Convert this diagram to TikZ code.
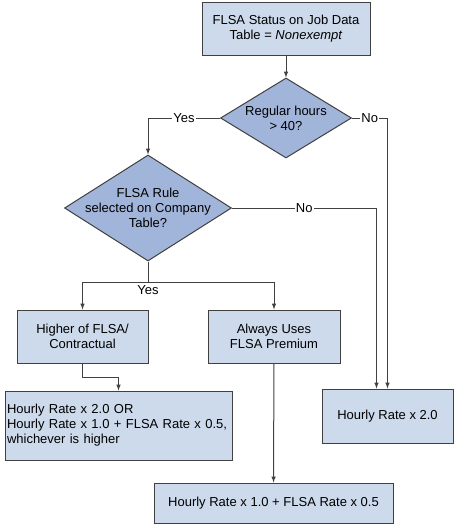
\documentclass[tikz,border=0pt]{standalone}
\usepackage{fontspec}
\setmainfont{Liberation Sans}
\usepackage{tikz}
\usetikzlibrary{arrows,calc,shapes.geometric}
\definecolor{boxfill}{RGB}{204,218,236}
\definecolor{diafill}{RGB}{161,180,217}
\definecolor{ln}{RGB}{64,64,64}

\begin{document}
\begin{tikzpicture}[x=1pt, y=-1pt,
    font=\fontsize{13}{15}\selectfont,
    bx/.style={shape=rectangle, draw=ln, fill=boxfill, line width=1pt, align=center, inner sep=3pt},
    dia/.style={shape=diamond, draw=ln, fill=diafill, line width=1pt, inner sep=0pt},
    txt/.style={align=center, inner sep=0pt},
    lbl/.style={fill=white, inner sep=1pt},
    arr/.style={draw=ln, line width=1pt, -latex},]
    \useasboundingbox (0,0) rectangle (455,525);
    \node [bx, minimum width=168, minimum height=53] (status) at (286,28.5) {FLSA Status on Job Data\\Table = \textit{Nonexempt}};
    \node [dia, minimum width=131, minimum height=80] (hours) at (286,118) {};
    \node [txt] (hourst) at (hours) {Regular hours\\> 40?};
    \node [dia, minimum width=167, minimum height=106] (rule) at (148,208) {};
    \node [txt] (rulet) at (rule) {FLSA Rule\\selected on Company\\Table?};
    \node [bx, minimum width=131, minimum height=53] (higher) at (82.5,336.5) {Higher of FLSA/\\Contractual};
    \node [bx, minimum width=132, minimum height=53] (always) at (274,336.5) {Always Uses\\FLSA Premium};
    \node [bx, minimum width=227, minimum height=69, inner xsep=2pt, text width=223, align=left] (either) at (118.5,425.5) {Hourly Rate x 2.0 OR\\Hourly Rate x 1.0 + FLSA Rate x 0.5,\\whichever is higher};
    \node [bx, minimum width=131, minimum height=54] (double) at (387.5,416) {Hourly Rate x 2.0};
    \node [bx, minimum width=239, minimum height=40] (premium) at (273.5,503) {Hourly Rate x 1.0 + FLSA Rate x 0.5};

    \draw [arr] (status) -- (hours);
    \draw [arr] (hours.west) -| node [lbl, pos=0.25] {Yes} (rule.north);
    \draw [arr] (hours.east) -| node [lbl, pos=0.25] {No} (double.north);
    \draw [arr] (rule.east) -| node [lbl, pos=0.25] {No} ([xshift=-11pt]double.north);
    \draw [draw=ln, line width=1pt] (rule.south) -- ++(0,21) coordinate (split);
    \node [anchor=north, inner sep=3pt] (yes) at (split) {Yes};
    \draw [arr] (split) -| (higher.north);
    \draw [arr] (split) -| (always.north);
    \draw [arr] (higher.south) -- ++(0,14) -| (either.north);
    \draw [arr] (always) -- (premium);
  \end{tikzpicture}
\end{document}
